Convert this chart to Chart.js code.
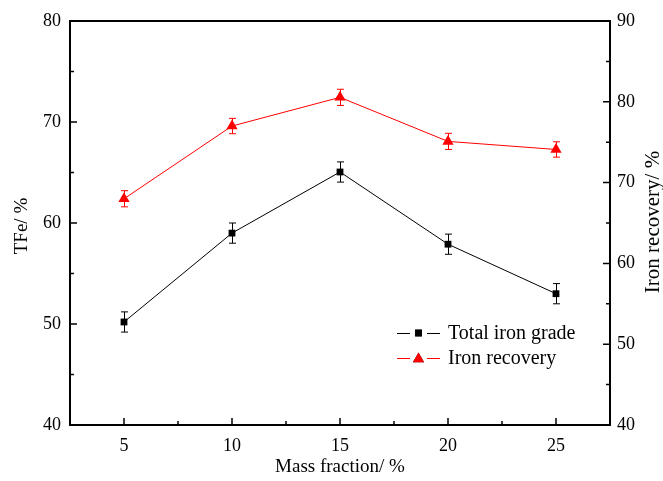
<!DOCTYPE html>
<html><head><meta charset="utf-8">
<script src="https://cdn.jsdelivr.net/npm/chart.js@4/dist/chart.umd.min.js"></script>
<style>html,body{margin:0;padding:0;background:#fff}#wrap{width:663px;height:481px}</style>
</head><body><div id="wrap"><canvas id="c" width="663" height="481"></canvas></div>
<script>
const massFraction = [5, 10, 15, 20, 25];
const totalIronGrade = [50.2, 59.0, 65.05, 57.9, 53.0];
const totalIronGradeErr = [1.0, 1.0, 1.0, 1.0, 1.0];
const ironRecovery = [68.0, 77.0, 80.55, 75.1, 74.1];
const ironRecoveryErr = [1.0, 0.95, 1.0, 1.0, 0.95];
const xTicks = [5, 10, 15, 20, 25];
const xMinorTicks = [7.5, 12.5, 17.5, 22.5];
const leftTicks = [40, 50, 60, 70, 80];
const leftMinorTicks = [45, 55, 65, 75];
const rightTicks = [40, 50, 60, 70, 80, 90];
const rightMinorTicks = [45, 55, 65, 75, 85];
const seriesNames = ['Total iron grade', 'Iron recovery'];
const xTitle = 'Mass fraction/ %';
const leftTitle = 'TFe/ %';
const rightTitle = 'Iron recovery/ %';

const FONT = '"Liberation Serif", "Times New Roman", serif';

const toXY = (ys) => ys.map((v, i) => ({x: massFraction[i], y: v}));

const decor = {
  id: 'decor',
  beforeDatasetsDraw(chart) {
    const ctx = chart.ctx;
    const xs = chart.scales.x;
    const sets = [
      {vals: totalIronGrade, err: totalIronGradeErr, scale: chart.scales.y, color: '#000'},
      {vals: ironRecovery, err: ironRecoveryErr, scale: chart.scales.y2, color: '#ff0000'}
    ];
    ctx.save();
    ctx.lineWidth = 1;
    sets.forEach(s => {
      ctx.strokeStyle = s.color;
      s.vals.forEach((v, i) => {
        const px = Math.round(xs.getPixelForValue(massFraction[i])) + 0.5;
        const top = s.scale.getPixelForValue(v + s.err[i]);
        const bot = s.scale.getPixelForValue(v - s.err[i]);
        ctx.beginPath();
        ctx.moveTo(px, top); ctx.lineTo(px, bot);
        ctx.moveTo(px - 3.5, top); ctx.lineTo(px + 3.5, top);
        ctx.moveTo(px - 3.5, bot); ctx.lineTo(px + 3.5, bot);
        ctx.stroke();
      });
    });
    ctx.restore();
  },
  afterDraw(chart) {
    const ctx = chart.ctx;
    const a = chart.chartArea;
    const xs = chart.scales.x, yl = chart.scales.y, yr = chart.scales.y2;
    ctx.save();
    ctx.strokeStyle = '#000';
    // ticks
    ctx.lineWidth = 1.5;
    ctx.beginPath();
    xTicks.forEach(v => { const p = xs.getPixelForValue(v); ctx.moveTo(p, a.bottom); ctx.lineTo(p, a.bottom - 7); });
    xMinorTicks.forEach(v => { const p = xs.getPixelForValue(v); ctx.moveTo(p, a.bottom); ctx.lineTo(p, a.bottom - 4); });
    leftTicks.forEach(v => { const p = yl.getPixelForValue(v); ctx.moveTo(a.left, p); ctx.lineTo(a.left + 7, p); });
    leftMinorTicks.forEach(v => { const p = yl.getPixelForValue(v); ctx.moveTo(a.left, p); ctx.lineTo(a.left + 4, p); });
    rightTicks.forEach(v => { const p = yr.getPixelForValue(v); ctx.moveTo(a.right, p); ctx.lineTo(a.right - 7, p); });
    rightMinorTicks.forEach(v => { const p = yr.getPixelForValue(v); ctx.moveTo(a.right, p); ctx.lineTo(a.right - 4, p); });
    ctx.stroke();
    // frame
    ctx.lineWidth = 2;
    ctx.strokeRect(a.left, a.top, a.right - a.left, a.bottom - a.top);
    // titles
    ctx.fillStyle = '#000';
    ctx.textAlign = 'center';
    ctx.textBaseline = 'middle';
    ctx.font = '19px ' + FONT;
    ctx.fillText(xTitle, (a.left + a.right) / 2, 467);
    ctx.save();
    ctx.translate(22, 226); ctx.rotate(-Math.PI / 2); ctx.fillText(leftTitle, 0, 0);
    ctx.restore();
    ctx.font = '21px ' + FONT;
    ctx.save();
    ctx.translate(653, 222); ctx.rotate(-Math.PI / 2); ctx.fillText(rightTitle, 0, 0);
    ctx.restore();
    // legend
    const rows = [333, 358];
    ctx.font = '20px ' + FONT;
    ctx.textAlign = 'left';
    rows.forEach((ry, i) => {
      const ds = chart.data.datasets[i];
      ctx.strokeStyle = ds.borderColor;
      ctx.lineWidth = 1;
      ctx.beginPath();
      ctx.moveTo(397, ry + 0.5); ctx.lineTo(410, ry + 0.5);
      ctx.moveTo(427, ry + 0.5); ctx.lineTo(440, ry + 0.5);
      ctx.stroke();
      Chart.helpers.drawPoint(ctx, {pointStyle: ds.pointStyle, radius: ds.pointRadius, borderWidth: 0, rotation: 0}, 418.5, ry + (i === 1 ? 1 : 0));
      ctx.fillStyle = ds.pointBackgroundColor;
      ctx.fill();
      ctx.fillStyle = '#000';
      ctx.fillText(seriesNames[i], 448, ry + 1);
    });
    ctx.restore();
  }
};

new Chart(document.getElementById('c'), {
  type: 'line',
  data: {
    datasets: [
      {
        label: seriesNames[0], data: toXY(totalIronGrade), yAxisID: 'y',
        borderColor: '#000', borderWidth: 1, pointStyle: 'rect', pointRadius: 4.8,
        pointBackgroundColor: '#000', pointBorderWidth: 0, pointBorderColor: '#000', tension: 0
      },
      {
        label: seriesNames[1], data: toXY(ironRecovery), yAxisID: 'y2',
        borderColor: '#ff0000', borderWidth: 1, pointStyle: 'triangle', pointRadius: 6.5,
        pointBackgroundColor: '#ff0000', pointBorderWidth: 0, pointBorderColor: '#ff0000', tension: 0
      }
    ]
  },
  options: {
    responsive: false, animation: false, devicePixelRatio: 1,
    layout: {padding: {top: 21, left: 0, right: 0, bottom: 0}},
    plugins: {legend: {display: false}, tooltip: {enabled: false}},
    scales: {
      x: {
        type: 'linear', min: 2.5, max: 27.5,
        afterBuildTicks: s => { s.ticks = xTicks.map(v => ({value: v})); },
        afterFit: s => { s.height = 56; },
        grid: {display: false, drawTicks: false}, border: {display: false},
        ticks: {color: '#000', padding: 10, font: {family: FONT, size: 18}, callback: v => String(v)}
      },
      y: {
        type: 'linear', position: 'left', min: 40, max: 80,
        afterBuildTicks: s => { s.ticks = leftTicks.map(v => ({value: v})); },
        afterFit: s => { s.width = 70; },
        grid: {display: false, drawTicks: false}, border: {display: false},
        ticks: {color: '#000', padding: 9, font: {family: FONT, size: 18}}
      },
      y2: {
        type: 'linear', position: 'right', min: 40, max: 90,
        afterBuildTicks: s => { s.ticks = rightTicks.map(v => ({value: v})); },
        afterFit: s => { s.width = 53; },
        grid: {display: false, drawTicks: false}, border: {display: false},
        ticks: {color: '#000', padding: 7, font: {family: FONT, size: 18}}
      }
    }
  },
  plugins: [decor]
});
</script>
</body></html>
